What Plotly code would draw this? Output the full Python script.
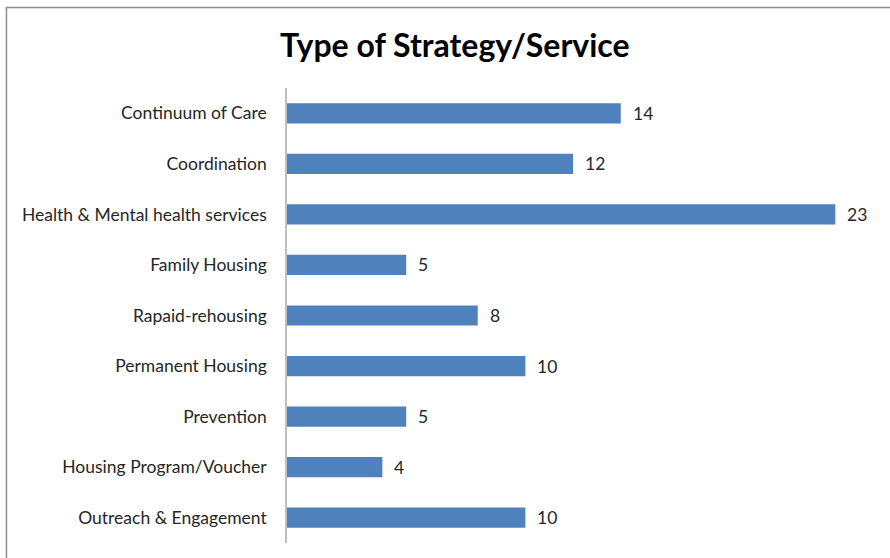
import plotly.graph_objects as go

# Strategy / service categories and their counts
categories = [
    "Continuum of Care",
    "Coordination",
    "Health & Mental health services",
    "Family Housing",
    "Rapaid-rehousing",
    "Permanent Housing",
    "Prevention",
    "Housing Program/Voucher",
    "Outreach & Engagement",
]
counts = [14, 12, 23, 5, 8, 10, 5, 4, 10]

FONT = "Lato, Calibri, Arial, sans-serif"
BAR_COLOR = "#4F81BD"
TEXT_COLOR = "#262626"

fig = go.Figure(
    go.Bar(
        x=counts,
        y=categories,
        orientation="h",
        marker=dict(color=BAR_COLOR, line=dict(width=0)),
        hoverinfo="x+y",
    )
)

# value labels just past the end of each bar
annotations = [
    dict(
        x=v,
        y=c,
        xref="x",
        yref="y",
        text=str(v),
        showarrow=False,
        xanchor="left",
        yanchor="middle",
        xshift=10,
        font=dict(family=FONT, size=17.5, color=TEXT_COLOR),
    )
    for c, v in zip(categories, counts)
]

fig.update_layout(
    width=890,
    height=558,
    margin=dict(l=287, r=7, t=88, b=15),
    paper_bgcolor="white",
    plot_bgcolor="white",
    bargap=0.6,
    showlegend=False,
    annotations=annotations,
    title=dict(
        text="<b>Type of Strategy/Service</b>",
        x=0.511,
        xanchor="center",
        y=0.918,
        yanchor="middle",
        font=dict(family=FONT, size=32, color="black"),
    ),
    xaxis=dict(
        range=[0, 25],
        showgrid=False,
        zeroline=False,
        showline=False,
        showticklabels=False,
        ticks="",
    ),
    yaxis=dict(
        autorange="reversed",
        showgrid=False,
        zeroline=False,
        showline=True,
        linecolor="#bfbfbf",
        linewidth=1.5,
        ticks="",
        ticklabelstandoff=15,
        tickfont=dict(family=FONT, size=17.5, color=TEXT_COLOR),
    ),
    shapes=[
        # chart-area frame; right and bottom edges sit past the page edge
        dict(
            type="rect",
            xref="paper",
            yref="paper",
            x0=-0.4707,
            x1=1.02,
            y0=-0.06,
            y1=1.177,
            line=dict(color="#8c8c8c", width=1.5),
            fillcolor="rgba(0,0,0,0)",
            layer="below",
        )
    ],
)

fig.write_html("out.html")
